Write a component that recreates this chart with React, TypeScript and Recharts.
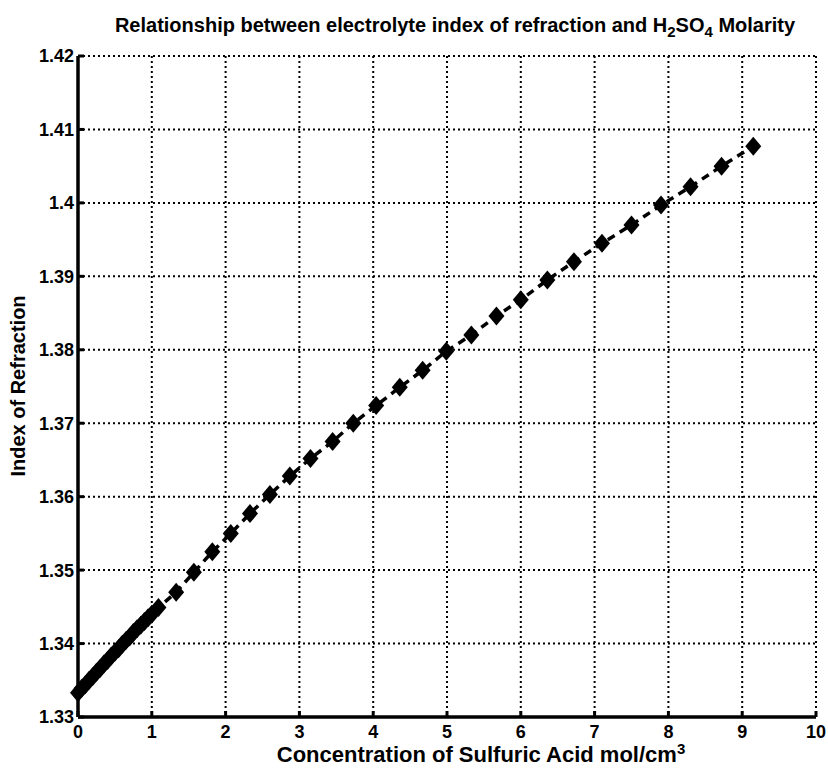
import { LineChart, Line, XAxis, YAxis, CartesianGrid } from 'recharts'

// H2SO4 molarity vs. index of refraction
const molarity = [
  0, 0.05, 0.1, 0.15, 0.2, 0.25, 0.3, 0.35, 0.4, 0.45, 0.5, 0.55, 0.6, 0.65, 0.7,
  0.75, 0.8, 0.85, 0.9, 0.95, 1.0, 1.09, 1.33, 1.57, 1.82, 2.07, 2.33, 2.6, 2.87,
  3.15, 3.45, 3.73, 4.04, 4.36, 4.67, 4.99, 5.33, 5.67, 6.0, 6.36, 6.72, 7.1, 7.5,
  7.9, 8.3, 8.72, 9.15,
]
const refIndex = [
  1.3333, 1.3339, 1.3344, 1.335, 1.3355, 1.3361, 1.3366, 1.3372, 1.3377, 1.3383,
  1.3388, 1.3393, 1.3399, 1.3404, 1.3409, 1.3415, 1.342, 1.3425, 1.343, 1.3435,
  1.344, 1.3449, 1.347, 1.3497, 1.3525, 1.355, 1.3577, 1.3603, 1.3628, 1.3652,
  1.3675, 1.37, 1.3724, 1.3749, 1.3772, 1.3798, 1.382, 1.3846, 1.3868, 1.3895,
  1.392, 1.3945, 1.397, 1.3997, 1.4022, 1.405, 1.4077,
]
const xTicks = [0, 1, 2, 3, 4, 5, 6, 7, 8, 9, 10]
const yTicks = [1.33, 1.34, 1.35, 1.36, 1.37, 1.38, 1.39, 1.4, 1.41, 1.42]

const data = molarity.map((m, i) => ({ m, n: refIndex[i] }))

const FONT = '"Liberation Sans", Arial, Helvetica, sans-serif'
const tickStyle = { fill: '#000', fontSize: 18, fontWeight: 700, fontFamily: FONT }
const blank = () => ''
const fmtY = (v: number) => String(Number(v.toFixed(2)))

function Diamond(props: any) {
  const { cx, cy } = props
  if (cx == null || cy == null) return null
  return (
    <path
      d={`M${cx},${cy - 9.5}L${cx + 8},${cy}L${cx},${cy + 9.5}L${cx - 8},${cy}Z`}
      fill="#000"
    />
  )
}

export default function App() {
  return (
    <div style={{ position: 'absolute', left: 0, top: 0, width: 828, height: 769, background: '#fff', fontFamily: FONT }}>
      <div
        style={{
          position: 'absolute', top: 14, left: 84, width: 742, textAlign: 'center',
          fontSize: 20, fontWeight: 700, color: '#000', whiteSpace: 'nowrap',
        }}
      >
        Relationship between electrolyte index of refraction and H<sub style={{ fontSize: 15 }}>2</sub>SO<sub style={{ fontSize: 15 }}>4</sub> Molarity
      </div>

      <LineChart
        width={828}
        height={769}
        data={data}
        margin={{ top: 56, right: 12, bottom: 22, left: 18 }}
      >
        <CartesianGrid stroke="#000" strokeWidth={2} strokeDasharray="2 3" horizontalValues={yTicks} verticalValues={xTicks} />
        <XAxis
          dataKey="m"
          type="number"
          domain={[0, 10]}
          ticks={xTicks}
          interval={0}
          height={30}
          tick={tickStyle}
          tickSize={-6}
          tickMargin={14}
          tickLine={{ stroke: '#000', strokeWidth: 3 }}
          axisLine={{ stroke: '#000', strokeWidth: 3.5 }}
        />
        <XAxis
          xAxisId="top"
          orientation="top"
          dataKey="m"
          type="number"
          domain={[0, 10]}
          ticks={xTicks}
          interval={0}
          height={0}
          tickFormatter={blank}
          tickSize={-6}
          tickLine={{ stroke: '#000', strokeWidth: 3 }}
          axisLine={{ stroke: '#000', strokeWidth: 3.5 }}
        />
        <YAxis
          type="number"
          domain={[1.33, 1.42]}
          ticks={yTicks}
          interval={0}
          width={60}
          tick={tickStyle}
          tickFormatter={fmtY}
          tickSize={-6}
          tickMargin={10}
          tickLine={{ stroke: '#000', strokeWidth: 3 }}
          axisLine={{ stroke: '#000', strokeWidth: 3.5 }}
          allowDataOverflow
        />
        <YAxis
          yAxisId="right"
          orientation="right"
          type="number"
          domain={[1.33, 1.42]}
          ticks={yTicks}
          interval={0}
          width={0}
          tickFormatter={blank}
          tickSize={-6}
          tickLine={{ stroke: '#000', strokeWidth: 3 }}
          axisLine={{ stroke: '#000', strokeWidth: 3.5 }}
          allowDataOverflow
        />
        <Line
          dataKey="n"
          stroke="#000"
          strokeWidth={3.5}
          strokeDasharray="8 6"
          dot={<Diamond />}
          activeDot={false}
          isAnimationActive={false}
        />
      </LineChart>

      <div
        style={{
          position: 'absolute', top: 743, left: 110, width: 742, textAlign: 'center',
          fontSize: 22, fontWeight: 700, color: '#000', whiteSpace: 'nowrap', lineHeight: '24px',
        }}
      >
        Concentration of Sulfuric Acid mol/cm<sup style={{ fontSize: 15, lineHeight: 0 }}>3</sup>
      </div>

      <div
        style={{
          position: 'absolute', left: 18, top: 386, width: 0, height: 0,
        }}
      >
        <div
          style={{
            position: 'absolute', transform: 'translate(-50%, -50%) rotate(-90deg)',
            fontSize: 20, fontWeight: 700, color: '#000', whiteSpace: 'nowrap',
          }}
        >
          Index of Refraction
        </div>
      </div>
    </div>
  )
}
